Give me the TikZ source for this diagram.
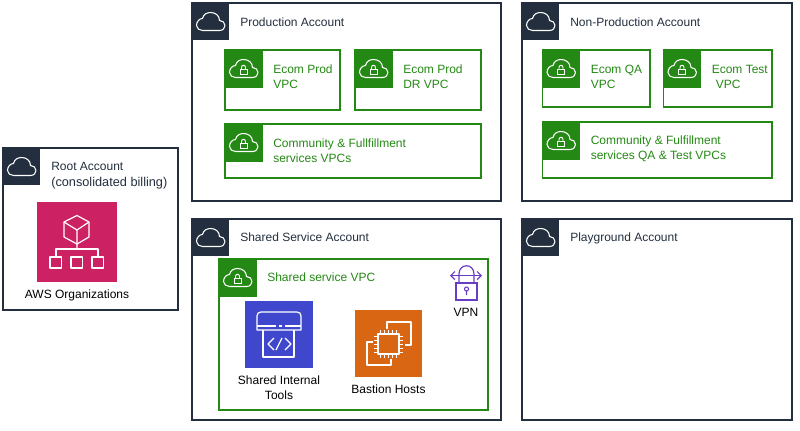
\documentclass[tikz,border=0pt]{standalone}
\usepackage{fontspec}
\setmainfont{Liberation Sans}
\usetikzlibrary{positioning, arrows.meta}
\definecolor{awsdark}{HTML}{232F3E}
\definecolor{awsgreen}{HTML}{248814}
\definecolor{awspink}{HTML}{CC2264}
\definecolor{awsblue}{HTML}{3F48CC}
\definecolor{awsorange}{HTML}{D86613}
\definecolor{awspurple}{HTML}{693CC5}
\tikzset{
  acctbox/.style={draw=awsdark, line width=0.85pt},
  vpcbox/.style={draw=awsgreen, line width=0.85pt},
  acctlabel/.style={anchor=west, inner sep=0pt, align=left, text=awsdark, font=\fontsize{9}{11}\selectfont},
  vpclabel/.style={anchor=west, inner sep=0pt, align=left, text=awsgreen, font=\fontsize{9}{11}\selectfont},
  iconlabel/.style={inner sep=0pt, align=center, text=black, font=\fontsize{9}{11}\selectfont},
  iconline/.style={draw=white, line width=0.9pt, line join=round},
  cloudicon/.pic={
    \draw[white, line width=0.8pt, line join=round] (-8,9) -- (9,9)
      .. controls (12.5,9) and (14.5,6.5) .. (14.5,4)
      .. controls (14.5,1) and (12,-1) .. (9,-1)
      .. controls (9,-6) and (5,-9) .. (0,-9)
      .. controls (-4,-9) and (-7,-7) .. (-8,-3)
      .. controls (-11,-3) and (-14,0) .. (-14,4)
      .. controls (-14,7) and (-11,9) .. (-8,9) -- cycle;
  },
  lockicon/.pic={
    \draw[white, line width=0.7pt] (-3.5,-0.5) rectangle (3.5,5);
    \draw[white, line width=0.7pt] (-2,-0.5) -- (-2,-2) .. controls (-2,-5) and (2,-5) .. (2,-2) -- (2,-0.5);
  },
}
\begin{document}
\begin{tikzpicture}[x=0.75pt, y=-0.75pt]
  \useasboundingbox (0,0) rectangle (800,430);

  % accounts
  \foreach \x/\y/\xx/\yy/\dy/\nm/\txt in {3/148/178/310/27.5/root/{Root Account\\[1pt]{\fontsize{9.55}{11}\selectfont(consolidated billing)}},
                                      192/3/501/201/19/prod/{Production Account},
                                      522/3/792/201/19/nonprod/{Non-Production Account},
                                      192/219/501/420/18.5/shared/{Shared Service Account},
                                      522/219/792/420/19/play/{Playground Account}}{
    \draw[acctbox] (\x,\y) rectangle (\xx,\yy);
    \fill[awsdark] (\x,\y) rectangle ++(37,37);
    \pic at (\x+18.5,\y+18.5) {cloudicon};
    \node[acctlabel] (\nm) at (\x+48,\y+\dy) {\txt};
  }

  % vpcs
  \foreach \x/\y/\xx/\yy/\dy/\nm/\txt in {225/50/340/110/27/ecomprod/{Ecom Prod\\VPC},
                                          355/50/481/110/27/ecomdr/{Ecom Prod\\DR VPC},
                                          225/124/481/178/26.5/community/{Community \& Fullfillment\\services VPCs},
                                          542.5/50/650/107/27/ecomqa/{Ecom QA\\VPC},
                                          663.5/50/772/107/27/ecomtest/{Ecom Test\\\hspace*{3pt}VPC},
                                          542.5/122/772/178/26.5/communityqa/{Community \& Fulfillment\\services QA \& Test VPCs},
                                          219/259/488/410/18.5/sharedvpc/{Shared service VPC}}{
    \draw[vpcbox] (\x,\y) rectangle (\xx,\yy);
    \fill[awsgreen] (\x,\y) rectangle ++(37.5,37.5);
    \pic at (\x+18.5,\y+18.5) {cloudicon};
    \pic at (\x+18.5,\y+19.5) {lockicon};
    \node[vpclabel] (\nm) at (\x+48,\y+\dy) {\txt};
  }

  % organizations
  \fill[awspink] (37,202) rectangle (117,282);
  \draw[iconline] (77,215.5) -- (89,222) -- (89,237) -- (77,244) -- (64,237) -- (64,222) -- cycle;
  \draw[iconline] (64,222) -- (77,230) -- (89,222) (77,230) -- (77,249);
  \draw[iconline] (56,257) -- (56,249) -- (98,249) -- (98,257);
  \foreach \bx in {50,71,92}{
    \draw[iconline] (\bx,257) rectangle ++(11.5,11);
  }
  \node[iconlabel] (orgs) at (77,295) {AWS Organizations};

  % shared tools
  \fill[awsblue] (245,301) rectangle (313,368);
  \draw[iconline] (257,330) -- (257,316) .. controls (257,313.5) and (258.5,312) .. (261,312) -- (297,312)
    .. controls (299.5,312) and (301,313.5) .. (301,316) -- (301,330) -- cycle;
  \draw[iconline] (257,326) -- (276,326) (279,326) -- (282,326) (285,326) -- (301,326);
  \draw[iconline] (263,330) -- (263,357) -- (294,357) -- (294,330);
  \draw[iconline] (274,338) -- (268,344) -- (274,350);
  \draw[iconline] (276,350) -- (282,338);
  \draw[iconline] (285,338) -- (291,344) -- (285,350);
  \node[iconlabel] (tools) at (279,388) {Shared Internal\\Tools};

  % bastion
  \fill[awsorange] (355,310) rectangle (422,377);
  \draw[iconline] (387,329) -- (387,322) -- (411,322) -- (411,345) -- (405,345);
  \draw[iconline] (373,342) -- (367,342) -- (367,365) -- (391,365) -- (391,359);
  \draw[iconline] (378,334) rectangle (399,354);
  \foreach \t in {-8,-4,0,4,8}{
    \draw[white, line width=0.7pt] (388.5+\t,330) -- (388.5+\t,334) (388.5+\t,354) -- (388.5+\t,358);
    \draw[white, line width=0.7pt] (374,344+\t) -- (378,344+\t) (399,344+\t) -- (403,344+\t);
  }
  \node[iconlabel] (bastion) at (388.5,389.5) {Bastion Hosts};

  % vpn
  \draw[awspurple, line width=0.9pt] (456,283) rectangle (477,300);
  \draw[awspurple, line width=0.9pt] (459,283) -- (459,274) .. controls (459,263) and (474,263) .. (474,274) -- (474,283);
  \draw[awspurple, line width=0.9pt, {Straight Barb[length=3pt,width=6pt]}-{Straight Barb[length=3pt,width=6pt]}] (450,275.5) -- (482,275.5);
  \draw[awspurple, line width=0.8pt] (466.5,289) circle[radius=2] (466.5,291) -- (466.5,295);
  \node[iconlabel] (vpn) at (466,312.5) {VPN};
\end{tikzpicture}
\end{document}
